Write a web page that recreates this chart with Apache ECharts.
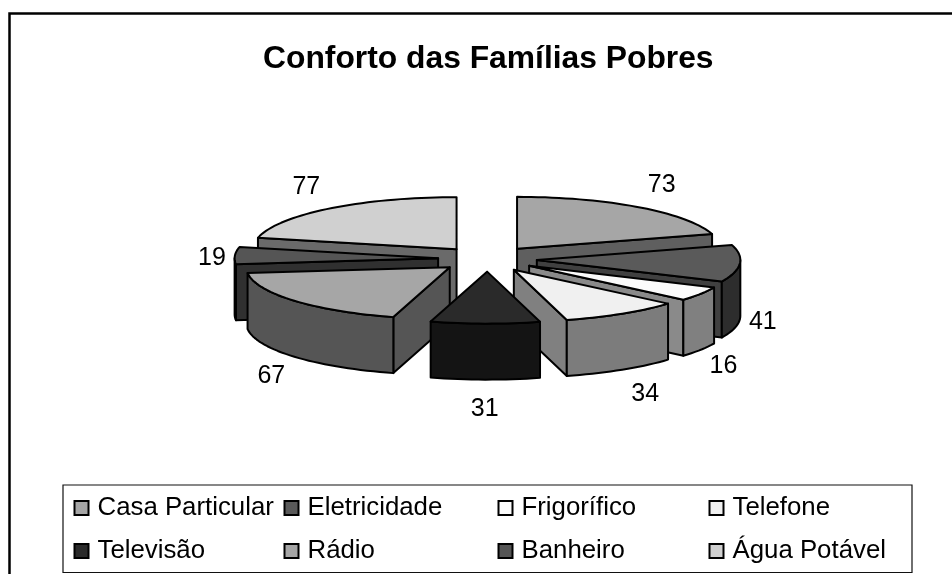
<!DOCTYPE html>
<html><head><meta charset="utf-8">
<style>html,body{margin:0;padding:0;background:#fff}#c{width:952px;height:574px}</style>
<script src="https://cdn.jsdelivr.net/npm/echarts@6/dist/echarts.min.js"></script>
</head><body><div id="c"></div>
<script>
const categories = ['Casa Particular','Eletricidade','Frigorífico','Telefone','Televisão','Rádio','Banheiro','Água Potável'];
const values = [73,41,16,34,31,67,19,77];
const chartTitle = 'Conforto das Famílias Pobres';
const topColors = ['#a6a6a6','#5a5a5a','#fbfbfb','#f0f0f0','#2a2a2a','#a6a6a6','#555555','#d0d0d0'];
const sideColors = ['#5f5f5f','#404040','#8a8a8a','#808080','#141414','#555555','#303030','#6a6a6a'];
const outerColors = ['#5f5f5f','#2d2d2d','#808080','#7c7c7c','#141414','#555555','#303030','#6a6a6a'];
const paintOrder = [7,0,1,2,6,3,5,4];

// pie projection
const CX=487.5, CY=259, RX=203.5, RY=52, EXPLODE=0.243, DEPTH=56;
const total = values.reduce((a,b)=>a+b,0);
const DEG = Math.PI/180;
let acc=0;
const spans = values.map(v=>{const s=acc/total*360; acc+=v; return [s,acc/total*360];});

function project(x,y,drop){return [CX+RX*x, CY-RY*y+(drop||0)];}
function arcPts(a0,a1,ox,oy,drop){
  const pts=[], n=Math.max(2,Math.ceil((a1-a0)/2));
  for(let i=0;i<=n;i++){const t=(a0+(a1-a0)*i/n)*DEG; pts.push(project(ox+Math.sin(t),oy+Math.cos(t),drop));}
  return pts;
}
const lineStyle=c=>({fill:c,stroke:'#000',lineWidth:2,lineJoin:'round'});
function renderSlice(params,api){
  const v=api.value(0), a0=api.value(1), a1=api.value(2), idx=api.value(3);
  const mid=(a0+a1)/2*DEG, sm=Math.sin(mid), cm=Math.cos(mid);
  const ox=EXPLODE*sm, oy=EXPLODE*cm;
  const apex=project(ox,oy), apexB=project(ox,oy,DEPTH);
  const ch=[];
  const poly=(pts,c)=>ch.push({type:'polygon',shape:{points:pts},style:lineStyle(c)});
  // radial faces that look at the viewer
  [[a0,Math.sin(a0*DEG)<-1e-6],[a1,Math.sin(a1*DEG)>1e-6]].forEach(([a,vis])=>{
    if(!vis) return;
    const t=a*DEG, r=project(ox+Math.sin(t),oy+Math.cos(t)), rb=project(ox+Math.sin(t),oy+Math.cos(t),DEPTH);
    poly([apex,r,rb,apexB],sideColors[idx]);
  });
  // outer wall, front half only
  const f0=Math.max(a0,90), f1=Math.min(a1,270);
  if(f1>f0){
    poly(arcPts(f0,f1,ox,oy,0).concat(arcPts(f0,f1,ox,oy,DEPTH).reverse()),outerColors[idx]);
  }
  // top face
  poly([apex].concat(arcPts(a0,a1,ox,oy,0)),topColors[idx]);
  // value label
  const rim=project((1+EXPLODE)*sm,(1+EXPLODE)*cm);
  const dx=23*Math.sign(sm)*Math.min(1,Math.abs(sm)*3);
  const dy=cm<0?DEPTH+1-28*cm:4-33*cm;
  ch.push({type:'text',silent:true,style:{x:rim[0]+dx,y:rim[1]+dy,text:String(v),fill:'#000',
    font:'25px "Liberation Sans", Arial, sans-serif',textAlign:'center',textVerticalAlign:'middle'}});
  return {type:'group',children:ch};
}
const series=paintOrder.map((idx,o)=>({
  type:'custom',name:categories[idx],coordinateSystem:'none',z:10+o,silent:true,animation:false,
  itemStyle:{color:topColors[idx]},
  renderItem:renderSlice,
  data:[[values[idx],spans[idx][0],spans[idx][1],idx]]
}));
const legendCols=[[0,4,73.5],[1,5,283.5],[2,6,497.5],[3,7,708.5]];
const legend=legendCols.map(([a,b,left])=>({
  orient:'vertical',left:left,top:495,padding:0,itemGap:17,itemWidth:14,itemHeight:14,icon:'rect',
  selectedMode:false,
  itemStyle:{borderColor:'#000',borderWidth:2},
  textStyle:{fontFamily:'"Liberation Sans", Arial, sans-serif',fontSize:25.8,lineHeight:26,color:'#000',padding:[0,0,0,4]},
  data:[categories[a],categories[b]]
}));
const chart=echarts.init(document.getElementById('c'),null,{renderer:'canvas'});
chart.setOption({
  animation:false,backgroundColor:'#fff',
  title:{text:chartTitle,left:263,top:43,padding:0,itemGap:0,
    textStyle:{fontFamily:'"Liberation Sans", Arial, sans-serif',fontWeight:'bold',fontSize:31.8,color:'#000'}},
  legend:legend,
  graphic:[
    {type:'rect',z:0,shape:{x:9.5,y:13.5,width:1000,height:600},style:{fill:'#fff',stroke:'#000',lineWidth:2.5}},
    {type:'rect',z:1,shape:{x:63,y:485,width:849,height:87.5},style:{fill:'#fff',stroke:'#111',lineWidth:1.2}}
  ],
  series:series
});
</script></body></html>
